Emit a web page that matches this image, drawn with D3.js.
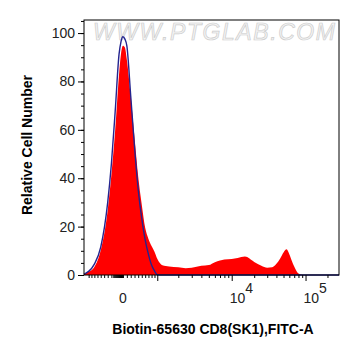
<!DOCTYPE html>
<html>
<head>
<meta charset="utf-8">
<script src="https://cdn.jsdelivr.net/npm/d3@7"></script>
<style>
  body { margin: 0; background: #fff; }
  text { font-family: "Liberation Sans", Arial, sans-serif; }
</style>
</head>
<body>
<div id="chart"></div>
<script>
// FITC-A channel values where the histograms were read
var fitcValues = [-1180, -1100, -1000, -800, -600, -400, -300, -200, -100, -50, 0, 50, 100, 200, 300, 400, 500, 600, 700, 800, 900, 1000,
  1200, 1500, 2000, 2500, 3000, 4000, 5000, 6000, 7000, 8000, 10000, 12000, 15000, 20000, 25000, 30000,
  35000, 40000, 45000, 50000, 55000, 60000, 65000, 70000, 80000, 90000, 288000];
// CD8 stained sample (red fill)
var sampleCounts = [0.3, 0.8, 1.3, 3.3, 10.2, 26.8, 41.4, 60, 83, 91.5, 94.8, 94, 89, 74, 56.8, 40.6, 29, 19.5, 14.9, 12, 9.6, 6.7,
  4.0, 3.5, 3.2, 2.8, 3.0, 3.8, 4.1, 5.3, 6.0, 6.4, 6.6, 7.0, 7.6, 5.4, 3.8, 3.0,
  3.2, 4.6, 6.8, 9.3, 10.6, 8.6, 5.8, 3.5, 0.6, 0, 0];
// isotype control (blue line)
var controlCounts = [0.3, 0.8, 1.5, 4.5, 11.5, 30, 46, 67.7, 91.3, 96.5, 98.5, 97.5, 94.7, 74, 53, 35.3, 23.4, 14.5, 8.5, 4.1, 1.7, 0.1,
  0, 0, 0, 0, 0, 0, 0, 0, 0, 0, 0, 0, 0, 0, 0, 0,
  0, 0, 0, 0, 0, 0, 0, 0, 0, 0, 0];

var yMajor = [0, 20, 40, 60, 80, 100];
var yMinor = d3.range(0, 106, 5);
var xLabels = [{v: 0, base: "0", sup: ""}, {v: 10000, base: "10", sup: "4"}, {v: 100000, base: "10", sup: "5"}];
var xMajor = [1000, 10000, 100000];
var xMinor = [-1000, -900, -800, -700, -600, -500, -400, -300, -250, -225, -200, -175, -150, -125, -100, -75, -50, -25, 0,
  100, 200, 300, 400, 500, 600, 700, 800, 900,
  2000, 3000, 4000, 5000, 6000, 7000, 8000, 9000,
  20000, 30000, 40000, 50000, 60000, 70000, 80000, 90000, 200000];

// biexponential (logicle-like) display transform
var LA = 304.6, LC = 829.3, LF = 524.7, LB = Math.LN10, LD = Math.LN10 / 1.65;
function biexInv(u) {
  var s = u < 0 ? -1 : 1, a = Math.abs(u);
  return s * (LA * Math.exp(LB * a) - LC * Math.exp(-LD * a) + LF);
}
function biex(v) {
  var s = v < 0 ? -1 : 1, t = Math.abs(v), lo = 0, hi = 4;
  for (var i = 0; i < 60; i++) {
    var m = (lo + hi) / 2;
    if (biexInv(m) < t) lo = m; else hi = m;
  }
  return s * (lo + hi) / 2;
}

var W = 361, H = 356;
var margin = {top: 20, right: 22, bottom: 81, left: 84};
var width = W - margin.left - margin.right;
var height = H - margin.top - margin.bottom;

var svg = d3.select("#chart").append("svg")
    .attr("width", W)
    .attr("height", H);
var g = svg.append("g").attr("transform", "translate(" + margin.left + "," + margin.top + ")");

var x = d3.scaleLinear()
    .domain([biex(fitcValues[0]), biex(fitcValues[fitcValues.length - 1])])
    .range([0, width]);
var y = d3.scaleLinear().domain([0, 105.4]).range([height, 0]);

// watermark
g.append("text")
    .attr("x", 9)
    .attr("y", 20)
    .attr("textLength", 242)
    .attr("lengthAdjust", "spacing")
    .style("font-size", "23px")
    .style("font-style", "italic")
    .style("fill", "#f4f4f4")
    .style("stroke", "#cdcdcd")
    .style("stroke-width", 0.7)
    .text("WWW.PTGLAB.COM");

var sample = fitcValues.map(function (v, i) { return [biex(v), sampleCounts[i]]; });
var control = fitcValues.map(function (v, i) { return [biex(v), controlCounts[i]]; });

var area = d3.area()
    .x(function (d) { return x(d[0]); })
    .y0(y(0))
    .y1(function (d) { return y(d[1]); })
    .curve(d3.curveMonotoneX);
var line = d3.line()
    .x(function (d) { return x(d[0]); })
    .y(function (d) { return y(d[1]); })
    .curve(d3.curveMonotoneX);

g.append("path").datum(sample).attr("d", area).attr("fill", "#ff0000");
g.append("path").datum(control).attr("d", line)
    .attr("fill", "none").attr("stroke", "#24248f").attr("stroke-width", 1.4);

// frame
g.append("rect").attr("width", width).attr("height", height)
    .attr("fill", "none").attr("stroke", "#000").attr("stroke-width", 1);

// y axis
g.append("g").call(d3.axisLeft(y).tickValues(yMinor).tickSize(3).tickFormat(""))
    .call(function (s) { s.select(".domain").remove(); });
var yAx = g.append("g").call(d3.axisLeft(y).tickValues(yMajor).tickSize(6).tickPadding(3));
yAx.select(".domain").remove();
yAx.selectAll("text").style("font-size", "14px").style("fill", "#222")
    .style("font-family", "'Liberation Sans', Arial, sans-serif");

// x axis
var xb = g.append("g").attr("transform", "translate(0," + height + ")");
xb.append("g").call(d3.axisBottom(x).tickValues(xMinor.map(biex)).tickSize(3).tickFormat(""))
    .call(function (s) { s.select(".domain").remove(); });
xb.append("g").call(d3.axisBottom(x).tickValues(xMajor.map(biex)).tickSize(6).tickFormat(""))
    .call(function (s) { s.select(".domain").remove(); });

var lab = xb.selectAll(".xlab").data(xLabels).enter().append("text")
    .attr("class", "xlab")
    .attr("x", function (d) { return x(biex(d.v)) + (d.sup ? -2 : 0); })
    .attr("y", 28)
    .attr("text-anchor", function (d) { return d.sup ? "start" : "middle"; })
    .style("font-size", "14px")
    .style("fill", "#222");
lab.append("tspan").text(function (d) { return d.base; });
lab.append("tspan").attr("dy", -10).text(function (d) { return d.sup; });

// titles
svg.append("text")
    .attr("x", 213)
    .attr("y", 334)
    .attr("text-anchor", "middle")
    .style("font-size", "14px")
    .style("font-weight", "bold")
    .text("Biotin-65630 CD8(SK1),FITC-A");
svg.append("text")
    .attr("transform", "translate(32,145) rotate(-90)")
    .attr("text-anchor", "middle")
    .style("font-size", "14px")
    .style("font-weight", "bold")
    .text("Relative Cell Number");
</script>
</body>
</html>
